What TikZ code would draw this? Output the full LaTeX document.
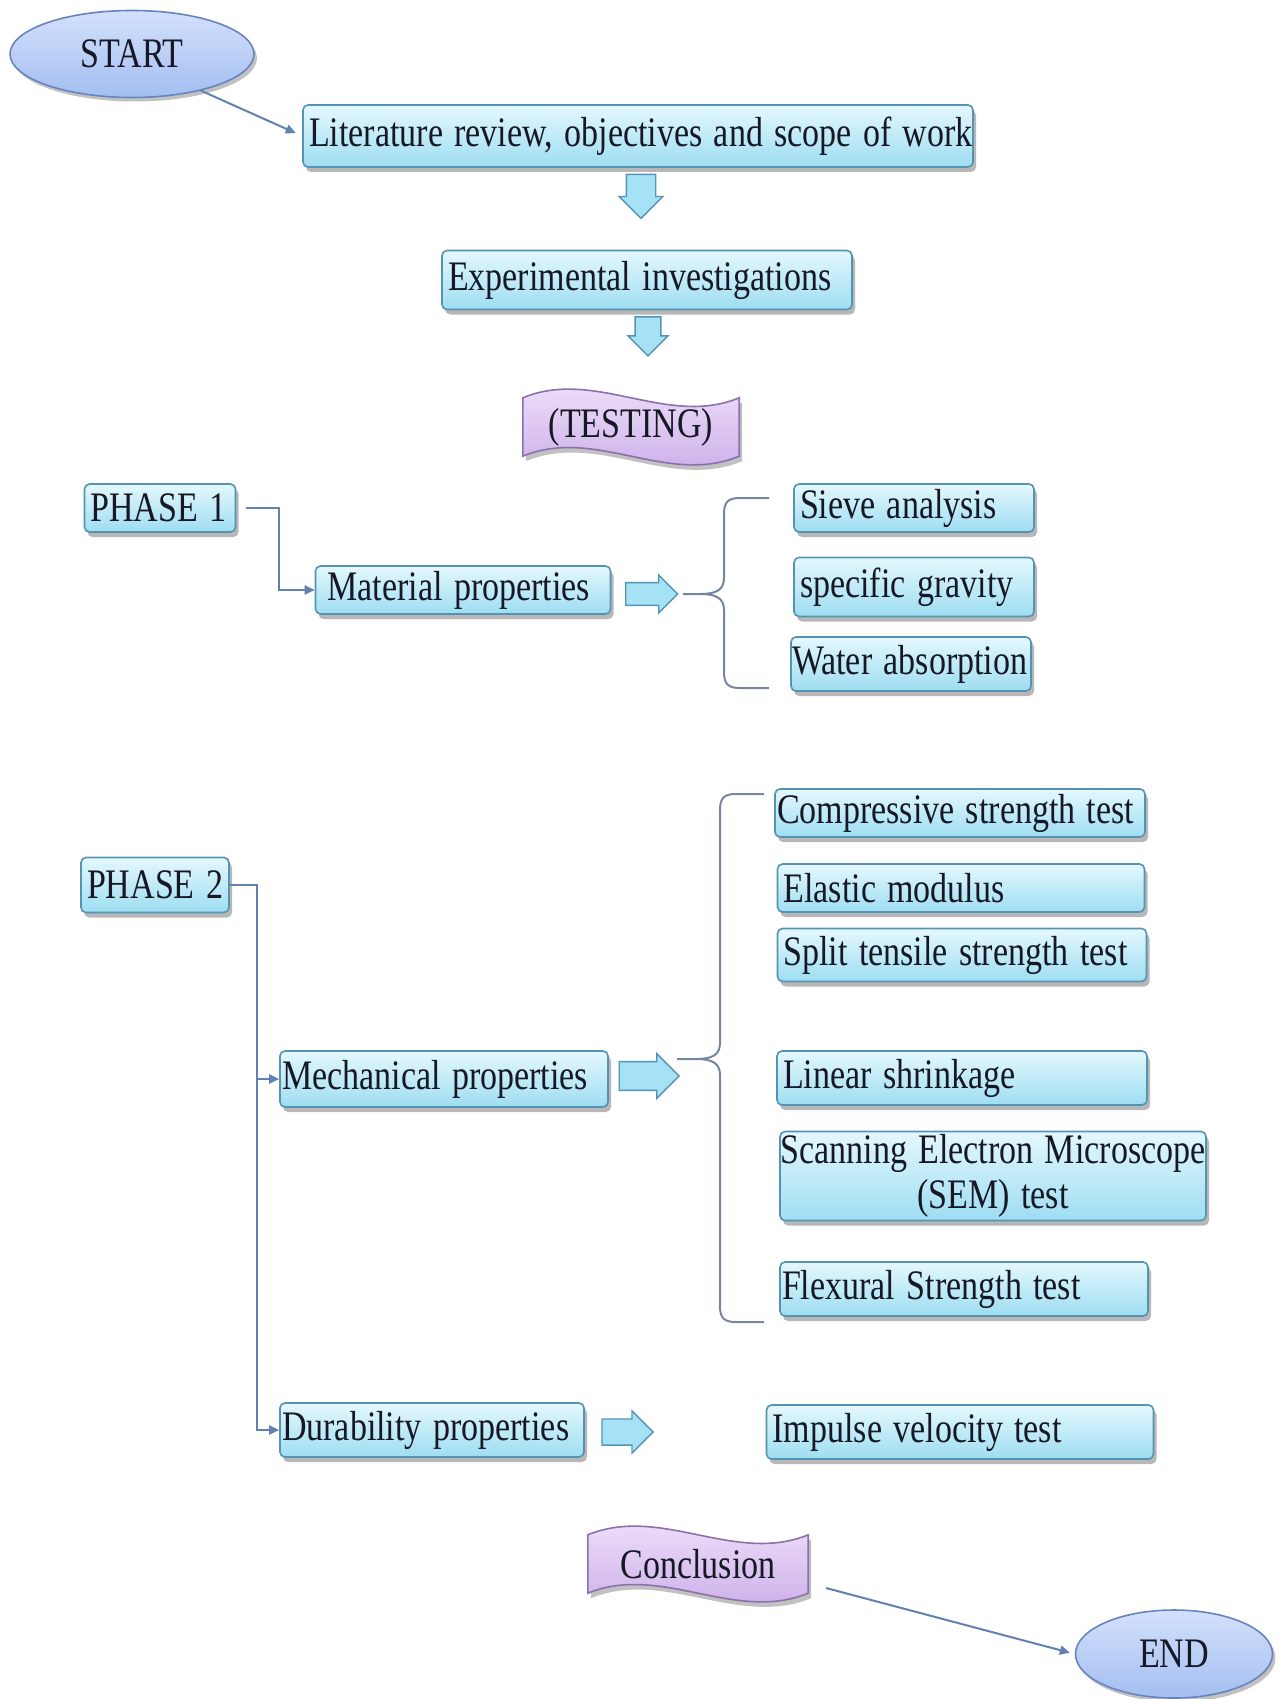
\documentclass[tikz,border=0pt]{standalone}
\usepackage{fontspec}
\usepackage{graphicx}
\setmainfont{Liberation Serif}
\usetikzlibrary{shapes.geometric,shapes.arrows,shadows,arrows.meta,calc,backgrounds}

\definecolor{txt}{RGB}{22,24,38}
\definecolor{boxtop}{RGB}{228,248,253}
\definecolor{boxbot}{RGB}{158,221,242}
\definecolor{boxline}{RGB}{84,148,178}
\definecolor{elltop}{RGB}{212,224,252}
\definecolor{ellbot}{RGB}{163,190,240}
\definecolor{ellline}{RGB}{104,132,190}
\definecolor{bantop}{RGB}{244,230,252}
\definecolor{banbot}{RGB}{198,168,230}
\definecolor{banline}{RGB}{140,112,172}
\definecolor{conncol}{RGB}{98,128,176}
\definecolor{bracecol}{RGB}{118,134,160}
\definecolor{arrfill}{RGB}{165,226,246}

\newcommand\sq[1]{\scalebox{0.81}[1]{#1}}

\newcommand\wavebanner[1]{%
  \draw[bannerpath] let \p1=(#1.north west), \p2=(#1.south east), \n1={\x2-\x1} in
    (\x1,\y1) .. controls ({\x1+\n1/3},{\y1+30pt}) and ({\x1+2*\n1/3},{\y1-30pt}) .. (\x2,\y1)
    -- (\x2,\y2) .. controls ({\x1+2*\n1/3},{\y2-30pt}) and ({\x1+\n1/3},{\y2+30pt}) .. (\x1,\y2) -- cycle;}

\begin{document}
\begin{tikzpicture}[x=1pt,y=-1pt,
  every node/.style={font=\fontsize{42}{45}\selectfont, text=txt},
  box/.style={rectangle, rounded corners=5pt, draw=boxline, line width=1.6pt,
    top color=boxtop, bottom color=boxbot, align=left, inner xsep=6pt, inner ysep=0pt,
    drop shadow={shadow xshift=3pt, shadow yshift=-5pt, opacity=0.4, fill=black!70}},
  ell/.style={ellipse, draw=ellline, line width=1.6pt, top color=elltop, bottom color=ellbot,
    inner sep=0pt, drop shadow={shadow xshift=3pt, shadow yshift=-4pt, opacity=0.35, fill=black!70}},
  bannertext/.style={rectangle, inner sep=0pt},
  bannerpath/.style={draw=banline, line width=1.6pt, top color=bantop, bottom color=banbot,
    drop shadow={shadow xshift=3pt, shadow yshift=-5pt, opacity=0.35, fill=black!70}},
  blockarr/.style={single arrow, draw=boxline, line width=1.4pt, fill=arrfill, inner xsep=0pt,
    single arrow tip angle=90},
  conn/.style={draw=conncol, line width=2pt, -{Triangle[length=10pt,width=9pt]}},
  bracep/.style={draw=bracecol, line width=2pt},
]
\useasboundingbox (0,0) rectangle (1285,1699);

% start / end
\node[ell, minimum width=244pt, minimum height=87pt] (start) at (132,54) {\sq{START}};
\node[ell, minimum width=197pt, minimum height=88pt] (end) at (1174,1654) {\sq{END}};

% main column
\node[box, text width=658pt, minimum height=62pt] (lit) at (638,136)
  {\sq{Literature review, objectives and scope of work}};
\node[box, text width=398pt, minimum height=59pt] (exp) at (647,280)
  {\sq{Experimental investigations}};

\node[blockarr, rotate=-90, minimum height=44pt, minimum width=43pt, inner ysep=14pt] (a1) at (641,189) {};
\node[blockarr, rotate=-90, minimum height=39pt, minimum width=40pt, inner ysep=12pt] (a2) at (648,330) {};

\node[bannertext, minimum width=216pt, minimum height=58pt] (test) at (631,427) {\sq{(TESTING)}};
\begin{scope}[on background layer]
  \wavebanner{test}
\end{scope}

% phase 1
\node[box, text width=139pt, minimum height=48pt] (p1) at (160,508) {\sq{PHASE 1}};
\node[box, text width=271pt, minimum height=48pt, inner xsep=12pt] (mat) at (463,590) {\sq{Material properties}};
\node[blockarr, minimum height=52pt, minimum width=38pt, inner ysep=10pt] (a3) at (646,594) {};

\node[box, text width=228pt, minimum height=48pt] (sieve) at (914,508) {\sq{Sieve analysis}};
\node[box, text width=228pt, minimum height=59pt] (sg) at (914,587) {\sq{specific gravity}};
\node[box, text width=238pt, minimum height=54pt, inner xsep=1pt] (wa) at (911,664) {\sq{Water absorption}};

\draw[conn] ([xshift=10pt]p1.east) -- ++(33,0) |- (mat.west);

\draw[bracep] (769,498) -- (740,498) .. controls (728,498) and (724,502) .. (724,514)
  -- (724,578) .. controls (724,590) and (716,594) .. (700,594) -- (683,594);
\draw[bracep] (700,594) .. controls (716,594) and (724,598) .. (724,610)
  -- (724,672) .. controls (724,684) and (728,688) .. (740,688) -- (769,688);

% phase 2
\node[box, text width=136pt, minimum height=55pt] (p2) at (155,885) {\sq{PHASE 2}};
\node[box, text width=324pt, minimum height=56pt, inner xsep=2pt] (mech) at (444,1079) {\sq{Mechanical properties}};
\node[blockarr, minimum height=60pt, minimum width=45pt, inner ysep=12pt] (a4) at (642,1076) {};
\node[box, text width=300pt, minimum height=54pt, inner xsep=2pt] (dur) at (432,1430) {\sq{Durability properties}};
\node[blockarr, minimum height=51pt, minimum width=42pt, inner ysep=11pt] (a5) at (621,1432) {};

\node[box, text width=366pt, minimum height=48pt, inner xsep=2pt] (comp) at (960,813) {\sq{Compressive strength test}};
\node[box, text width=355pt, minimum height=48pt] (elas) at (961,888) {\sq{Elastic modulus}};
\node[box, text width=357pt, minimum height=53pt] (split) at (962,955) {\sq{Split tensile strength test}};
\node[box, text width=358pt, minimum height=54pt] (lin) at (962,1078) {\sq{Linear shrinkage}};
\node[box, text width=426pt, minimum height=89pt, inner xsep=0pt, align=center] (sem) at (993,1176)
  {\sq{Scanning Electron Microscope}\\\sq{(SEM) test}};
\node[box, text width=364pt, minimum height=54pt, inner xsep=2pt] (flex) at (964,1289) {\sq{Flexural Strength test}};
\node[box, text width=375pt, minimum height=54pt] (imp) at (960,1432) {\sq{Impulse velocity test}};

\draw[conn] (p2.east) -- ++(27,0) coordinate (p2j) |- (mech.west);
\draw[conn] (p2j) |- (dur.west);

\draw[bracep] (764,794) -- (736,794) .. controls (724,794) and (720,798) .. (720,810)
  -- (720,1043) .. controls (720,1055) and (712,1059) .. (696,1059) -- (677,1059);
\draw[bracep] (696,1059) .. controls (712,1059) and (720,1063) .. (720,1075)
  -- (720,1306) .. controls (720,1318) and (724,1322) .. (736,1322) -- (764,1322);

% conclusion
\node[bannertext, minimum width=220pt, minimum height=58pt] (concl) at (698,1564) {\sq{Conclusion}};
\begin{scope}[on background layer]
  \wavebanner{concl}
\end{scope}

% connectors start/end
\draw[conn, shorten >=7pt] (start.-28) -- (lit.west);
\coordinate (cx) at (826,1588);
\draw[conn, shorten >=5pt] (cx) -- (end.west);
\end{tikzpicture}
\end{document}
